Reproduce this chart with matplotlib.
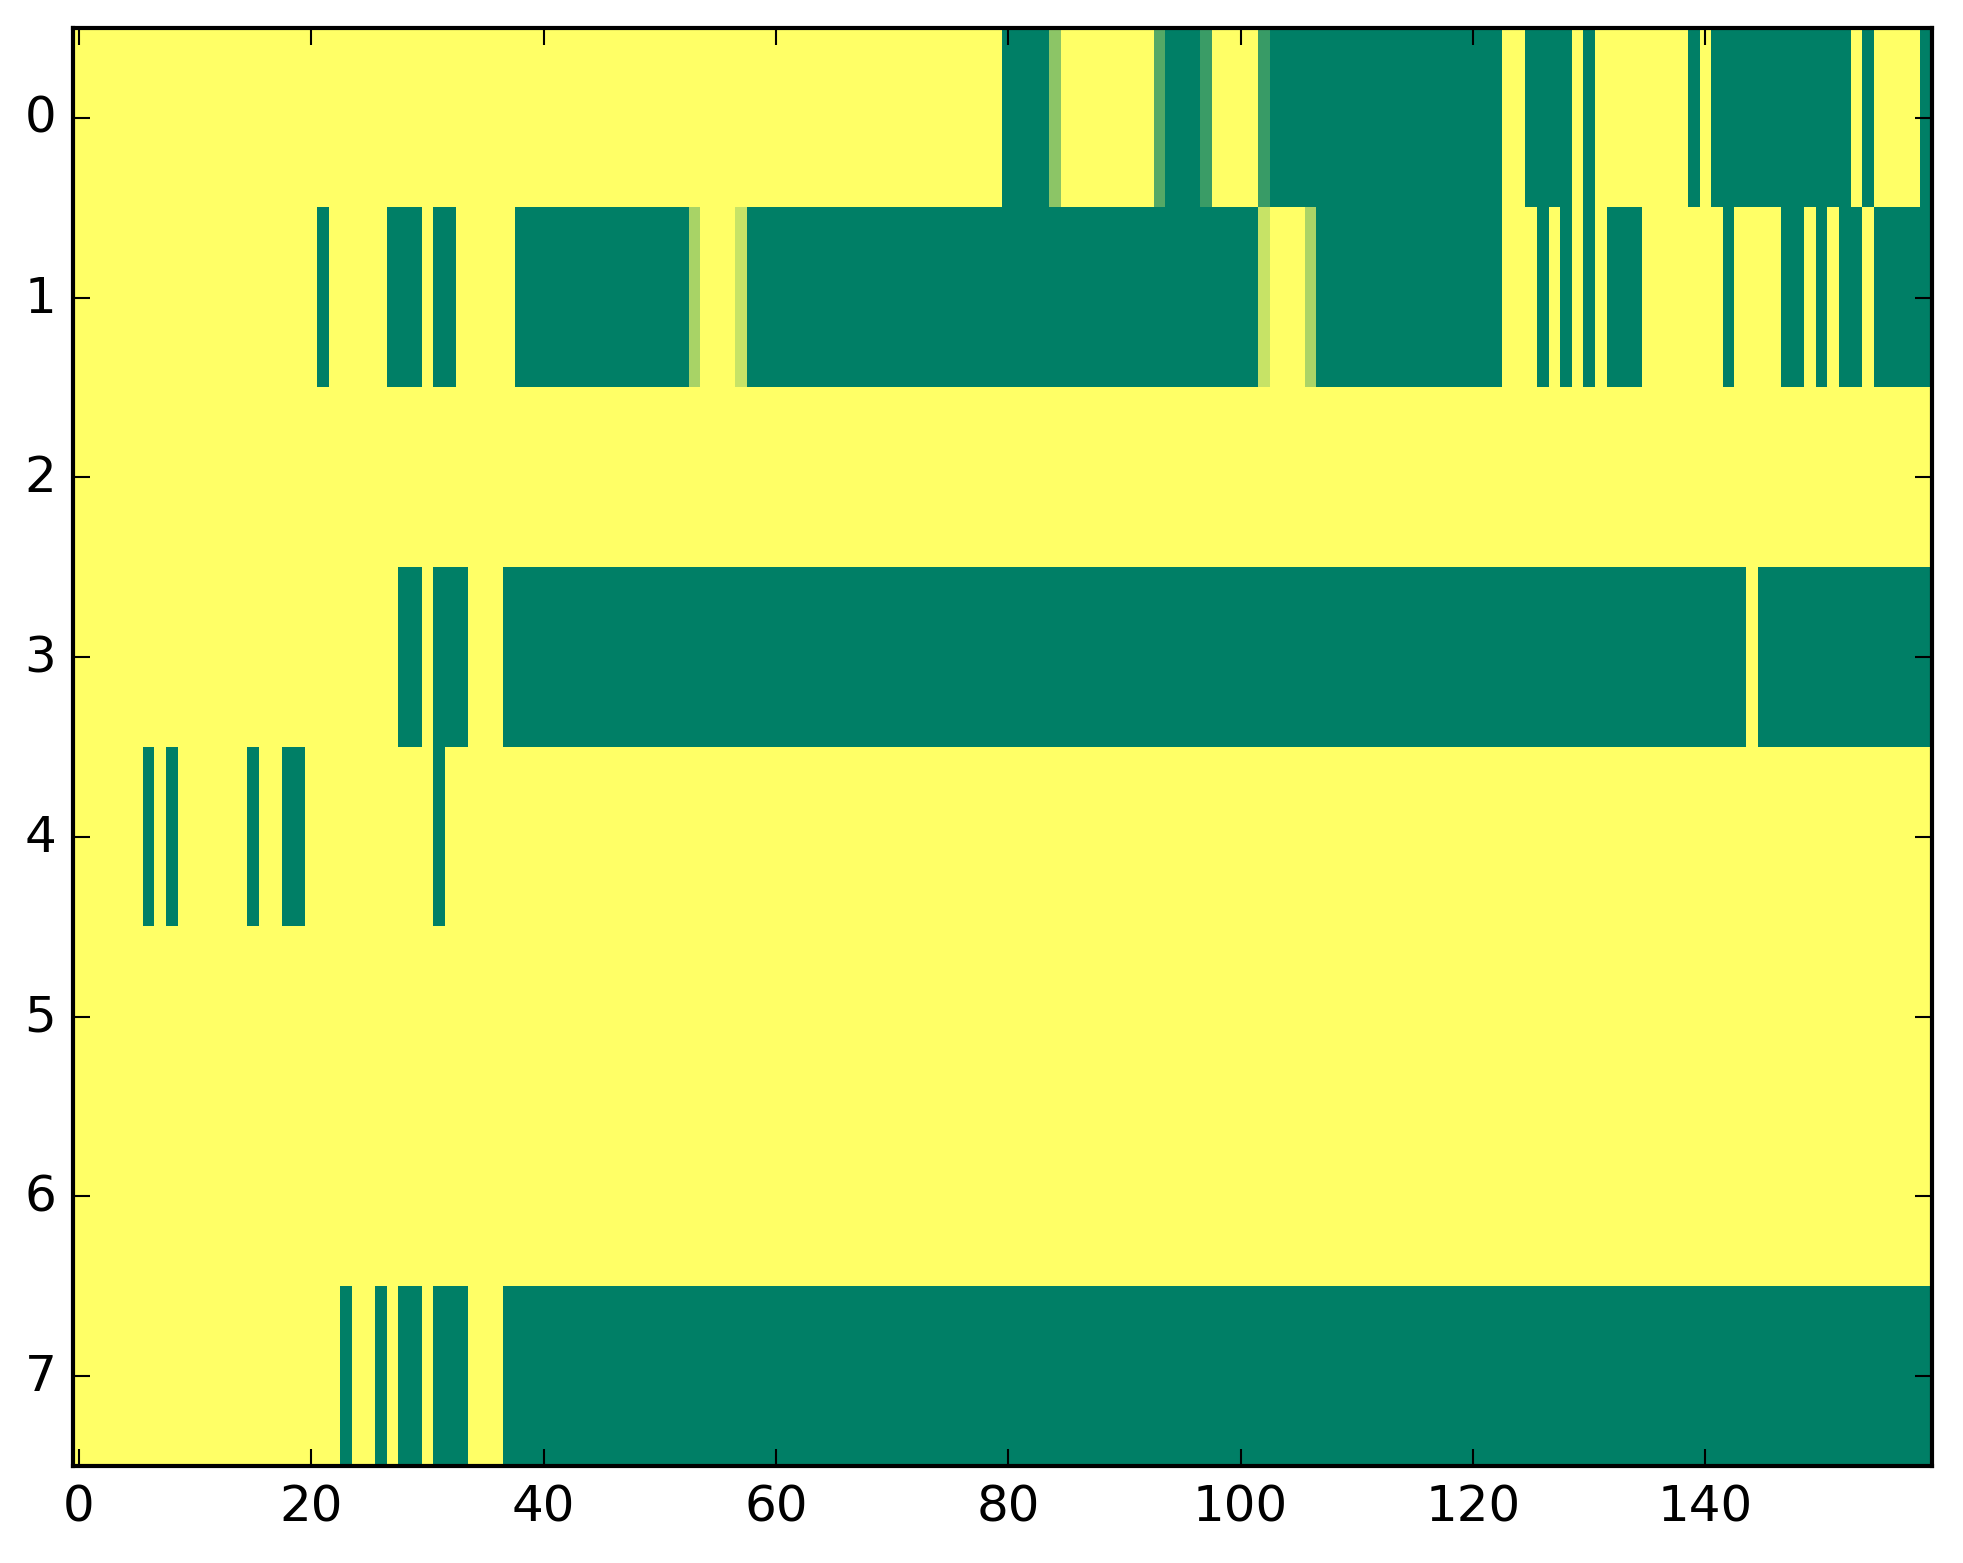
import numpy as np
import matplotlib
matplotlib.use("Agg")
import matplotlib.pyplot as plt

N_ROWS = 8
N_COLS = 160

# non-yellow cells per row: (first column, last column, value); everything else is 1.0
ROW0 = [(80, 83, 0), (84, 84, 0.55), (93, 93, 0.33), (94, 96, 0), (97, 97, 0.23),
        (102, 102, 0.22), (103, 122, 0), (125, 128, 0), (130, 130, 0), (139, 139, 0),
        (141, 152, 0), (154, 154, 0), (159, 159, 0)]
ROW1 = [(21, 21, 0), (27, 29, 0), (31, 32, 0), (38, 52, 0), (53, 53, 0.66), (57, 57, 0.78),
        (58, 101, 0), (102, 102, 0.78), (106, 106, 0.67), (107, 122, 0), (126, 126, 0),
        (128, 128, 0), (130, 130, 0), (132, 134, 0), (142, 142, 0), (147, 148, 0),
        (150, 150, 0), (152, 153, 0), (155, 159, 0)]
ROW2 = []
ROW3 = [(28, 29, 0), (31, 33, 0), (37, 143, 0), (145, 159, 0)]
ROW4 = [(6, 6, 0), (8, 8, 0), (15, 15, 0), (18, 19, 0), (31, 31, 0)]
ROW5 = []
ROW6 = []
ROW7 = [(23, 23, 0), (26, 26, 0), (28, 29, 0), (31, 33, 0), (37, 159, 0)]

ROWS = [ROW0, ROW1, ROW2, ROW3, ROW4, ROW5, ROW6, ROW7]

grid = np.ones((N_ROWS, N_COLS))
for r, cells in enumerate(ROWS):
    for first, last, value in cells:
        grid[r, first:last + 1] = value

plt.style.use("classic")
fig = plt.figure(figsize=(1963 / 300, 1564 / 300), dpi=300)
ax = fig.add_axes([73 / 1963, 97 / 1564, 1859 / 1963, 1438 / 1564])
ax.imshow(grid, cmap="summer", interpolation="nearest", aspect="auto", vmin=0, vmax=1)
ax.set_xticks(range(0, 141, 20))
ax.set_yticks(range(N_ROWS))
ax.set_xlim(-0.5, N_COLS - 0.5)
ax.set_ylim(N_ROWS - 0.5, -0.5)
fig.savefig("out.png", dpi=300)
